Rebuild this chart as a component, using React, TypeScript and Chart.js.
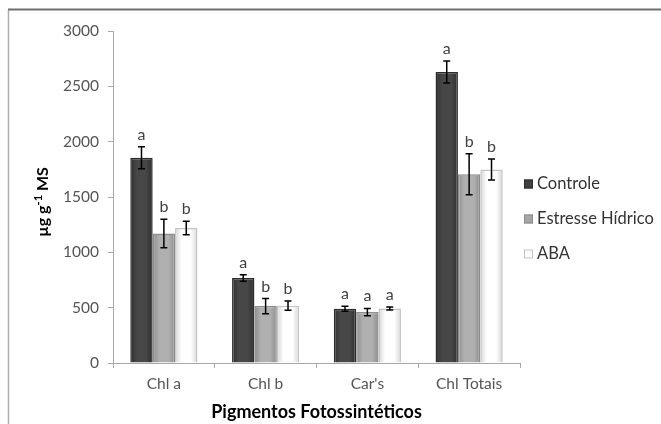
import React, { useEffect, useRef } from "react";
import { Chart, registerables } from "chart.js";

Chart.register(...registerables);

const categories = ["Chl a", "Chl b", "Car's", "Chl Totais"];
const seriesNames = ["Controle", "Estresse Hídrico", "ABA"];

const controle = [1855, 768, 490, 2630];
const controleErr = [100, 30, 22, 100];
const estresse = [1170, 514, 460, 1705];
const estresseErr = [128, 68, 33, 185];
const aba = [1220, 518, 493, 1748];
const abaErr = [60, 42, 13, 95];

const controleLetters = ["a", "a", "a", "a"];
const estresseLetters = ["b", "b", "a", "b"];
const abaLetters = ["b", "b", "a", "b"];

const yMin = 0;
const yMax = 3000;
const yStep = 500;

const xTitle = "Pigmentos Fotossintéticos";
const yTitleParts = ["µg g", "-1", " MS"];

const FONT = "Lato, 'Open Sans', sans-serif";

const fills = ["#404040", "#a6a6a6", "#fcfcfc"];
const edgeFills = ["#2e2e2e", "#8e8e8e", "#d6d6d6"];
const centerFills = ["#474747", "#b0b0b0", "#ffffff"];
const borders = ["#2c2c2c", "#8c8c8c", "#c4c4c4"];

export default function App() {
  const ref = useRef<HTMLCanvasElement | null>(null);

  useEffect(() => {
    const canvas = ref.current;
    if (!canvas) return;

    const errs = [controleErr, estresseErr, abaErr];
    const letters = [controleLetters, estresseLetters, abaLetters];

    const extras = {
      id: "extras",
      beforeDraw(chart: any) {
        const ctx = chart.ctx;
        ctx.save();
        ctx.fillStyle = "#ffffff";
        ctx.fillRect(0, 0, chart.width, chart.height);
        ctx.strokeStyle = "#b0b0b0";
        ctx.lineWidth = 1.5;
        ctx.beginPath();
        ctx.moveTo(8.5, chart.height + 2);
        ctx.lineTo(8.5, 9.5);
        ctx.stroke();
        ctx.strokeStyle = "#707070";
        ctx.lineWidth = 2;
        ctx.beginPath();
        ctx.moveTo(8, 9.5);
        ctx.lineTo(chart.width + 2, 9.5);
        ctx.stroke();
        ctx.restore();
      },
      beforeDatasetsDraw(chart: any) {
        const ctx = chart.ctx;
        chart.data.datasets.forEach((_ds: any, i: number) => {
          const meta = chart.getDatasetMeta(i);
          meta.data.forEach((bar: any) => {
            const half = bar.width / 2;
            const g = ctx.createLinearGradient(bar.x - half, 0, bar.x + half, 0);
            g.addColorStop(0, edgeFills[i]);
            g.addColorStop(0.3, centerFills[i]);
            g.addColorStop(0.7, centerFills[i]);
            g.addColorStop(1, edgeFills[i]);
            bar.options = { ...bar.options, backgroundColor: g };
          });
        });
      },
      afterDatasetsDraw(chart: any) {
        const ctx = chart.ctx;
        const y = chart.scales.y;
        ctx.save();
        chart.data.datasets.forEach((ds: any, i: number) => {
          const meta = chart.getDatasetMeta(i);
          meta.data.forEach((bar: any, j: number) => {
            const v = ds.data[j];
            const e = errs[i][j];
            const top = y.getPixelForValue(v + e);
            const bot = y.getPixelForValue(v - e);
            const x = bar.x;
            ctx.strokeStyle = "#000000";
            ctx.lineWidth = 1.5;
            ctx.beginPath();
            ctx.moveTo(x, top);
            ctx.lineTo(x, bot);
            ctx.moveTo(x - 3.5, top);
            ctx.lineTo(x + 3.5, top);
            ctx.moveTo(x - 3.5, bot);
            ctx.lineTo(x + 3.5, bot);
            ctx.stroke();
            ctx.fillStyle = "#404040";
            ctx.font = `16px ${FONT}`;
            ctx.textAlign = "center";
            ctx.textBaseline = "alphabetic";
            ctx.fillText(letters[i][j], x, top - 7);
          });
        });
        ctx.restore();
      },
      afterDraw(chart: any) {
        const ctx = chart.ctx;
        ctx.save();
        ctx.translate(43, 202);
        ctx.rotate(-Math.PI / 2);
        const big = `bold 16px ${FONT}`;
        const small = `bold 11px ${FONT}`;
        ctx.font = big;
        const w0 = ctx.measureText(yTitleParts[0]).width;
        const w2 = ctx.measureText(yTitleParts[2]).width;
        ctx.font = small;
        const w1 = ctx.measureText(yTitleParts[1]).width;
        const total = w0 + w1 + w2;
        let px = -total / 2;
        ctx.fillStyle = "#000000";
        ctx.textBaseline = "middle";
        ctx.textAlign = "left";
        ctx.font = big;
        ctx.fillText(yTitleParts[0], px, 0);
        px += w0;
        ctx.font = small;
        ctx.fillText(yTitleParts[1], px, -5);
        px += w1;
        ctx.font = big;
        ctx.fillText(yTitleParts[2], px, 0);
        ctx.restore();

        ctx.save();
        const ys = [184, 219, 254];
        seriesNames.forEach((name, i) => {
          const cy = ys[i];
          ctx.fillStyle = fills[i];
          ctx.fillRect(524, cy - 4.5, 9, 9);
          ctx.strokeStyle = borders[i];
          ctx.lineWidth = 1;
          ctx.strokeRect(524.5, cy - 4, 8, 8);
          ctx.fillStyle = "#333333";
          ctx.font = `16.5px ${FONT}`;
          ctx.textAlign = "left";
          ctx.textBaseline = "middle";
          ctx.fillText(name, 537, cy);
        });
        ctx.restore();
      },
    };

    const chart = new Chart(canvas, {
      type: "bar",
      data: {
        labels: categories,
        datasets: [
          { label: seriesNames[0], data: controle },
          { label: seriesNames[1], data: estresse },
          { label: seriesNames[2], data: aba },
        ].map((d, i) => ({
          ...d,
          backgroundColor: fills[i],
          borderColor: borders[i],
          borderWidth: 1.5,
          categoryPercentage: 0.66,
          barPercentage: 1.0,
        })),
      },
      options: {
        responsive: false,
        animation: false,
        layout: { padding: { top: 31, right: 141, left: 0, bottom: 0 } },
        plugins: {
          legend: { display: false },
          tooltip: { enabled: false },
        },
        scales: {
          x: {
            afterFit: (scale: any) => {
              scale.height = 61;
            },
            grid: {
              display: true,
              drawOnChartArea: false,
              drawTicks: true,
              tickLength: 5,
              color: "#a8a8a8",
              offset: true,
            },
            border: { display: true, color: "#a8a8a8", width: 1 },
            ticks: {
              color: "#555555",
              font: { family: FONT, size: 15.5 },
              padding: 7,
            },
            title: {
              display: true,
              text: xTitle,
              color: "#000000",
              font: { family: FONT, size: 18, weight: "bold" },
              padding: { top: 0, bottom: 1 },
            },
          },
          y: {
            min: yMin,
            max: yMax,
            afterFit: (scale: any) => {
              scale.width = 113;
            },
            grid: {
              display: true,
              drawOnChartArea: false,
              drawTicks: true,
              tickLength: 5,
              color: "#a8a8a8",
            },
            border: { display: true, color: "#a8a8a8", width: 1 },
            ticks: {
              stepSize: yStep,
              color: "#555555",
              font: { family: FONT, size: 15.5 },
              padding: 9,
              callback: (v: any) => String(v),
            },
          },
        },
      },
      plugins: [extras],
    });

    return () => chart.destroy();
  }, []);

  return (
    <div style={{ position: "fixed", left: 0, top: 0, width: 661, height: 424, background: "#fff" }}>
      <canvas ref={ref} width={661} height={424} style={{ display: "block", width: 661, height: 424 }} />
    </div>
  );
}
